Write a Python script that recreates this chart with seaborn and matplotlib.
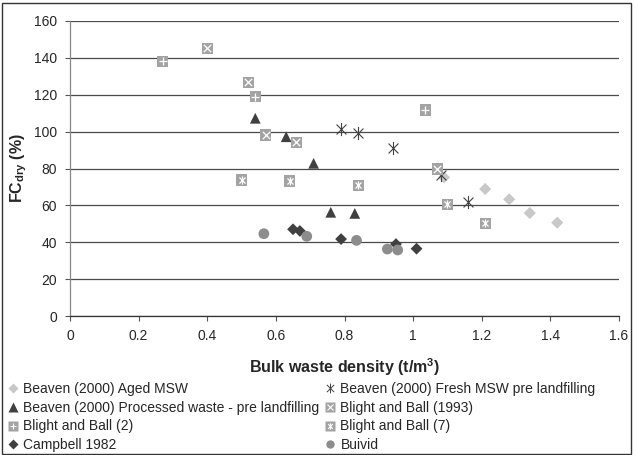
import matplotlib
matplotlib.use("Agg")
import matplotlib.pyplot as plt
import seaborn as sns
from matplotlib.patches import Rectangle
from matplotlib.lines import Line2D
from matplotlib.legend_handler import HandlerTuple
from matplotlib.path import Path

# ---- data ----
aged_x = [1.09, 1.21, 1.28, 1.34, 1.42]
aged_y = [75.2, 68.9, 63.3, 55.9, 50.7]

fresh_x = [0.79, 0.84, 0.94, 1.08, 1.16]
fresh_y = [101.4, 99.0, 90.9, 76.5, 61.7]

proc_x = [0.54, 0.63, 0.71, 0.76, 0.83]
proc_y = [107.2, 97.2, 82.8, 56.3, 55.7]

bb1993_x = [0.40, 0.52, 0.57, 0.66, 1.07]
bb1993_y = [145.0, 126.6, 98.1, 94.2, 79.7]

bb2_x = [0.27, 0.54, 1.035]
bb2_y = [138.0, 118.9, 111.7]

bb7_x = [0.50, 0.64, 0.84, 1.10, 1.21]
bb7_y = [73.8, 73.2, 70.9, 60.6, 50.3]

camp_x = [0.65, 0.67, 0.79, 0.95, 1.01]
camp_y = [47.1, 46.2, 41.8, 39.1, 36.6]

buivid_x = [0.565, 0.69, 0.835, 0.925, 0.955]
buivid_y = [44.7, 43.3, 41.1, 36.4, 35.9]

labels = ["Beaven (2000) Aged MSW",
          "Beaven (2000) Fresh MSW pre landfilling",
          "Beaven (2000) Processed waste - pre landfilling",
          "Blight and Ball (1993)",
          "Blight and Ball (2)",
          "Blight and Ball (7)",
          "Campbell 1982",
          "Buivid"]

x_ticks = [0, 0.2, 0.4, 0.6, 0.8, 1, 1.2, 1.4, 1.6]
x_ticklabels = ["0", "0.2", "0.4", "0.6", "0.8", "1", "1.2", "1.4", "1.6"]
y_ticks = [0, 20, 40, 60, 80, 100, 120, 140, 160]

sns.set_style("white")
plt.rcParams['font.family'] = ['Liberation Sans', 'DejaVu Sans']
plt.rcParams['mathtext.default'] = 'regular'

fig = plt.figure(figsize=(6.35, 4.55), dpi=100)
ax = fig.add_axes([70/635, 1-316.3/455, 549/635, (316.3-20.7)/455])

sq_grey = "#a3a3a3"
dark = "#404040"
# Excel-style star: X with a vertical bar
star = Path([(0, -1), (0, 1), (-0.75, -0.75), (0.75, 0.75), (-0.75, 0.75), (0.75, -0.75)],
            [Path.MOVETO, Path.LINETO, Path.MOVETO, Path.LINETO, Path.MOVETO, Path.LINETO])

# Aged MSW
sns.scatterplot(x=aged_x, y=aged_y, ax=ax, marker="D", s=38, color="#c8c8c8", edgecolor="none", zorder=3)
# Fresh MSW
sns.scatterplot(x=fresh_x, y=fresh_y, ax=ax, marker=star, s=90, color=dark, edgecolor=dark, linewidth=0.8, zorder=3)
# Processed
sns.scatterplot(x=proc_x, y=proc_y, ax=ax, marker="^", s=60, color=dark, edgecolor="none", zorder=3)
# Blight and Ball 1993
sns.scatterplot(x=bb1993_x, y=bb1993_y, ax=ax, marker="s", s=65, color=sq_grey, edgecolor="none", zorder=3)
sns.scatterplot(x=bb1993_x, y=bb1993_y, ax=ax, marker="x", s=28, color="white", linewidth=0.9, zorder=4)
# Blight and Ball 2
sns.scatterplot(x=bb2_x, y=bb2_y, ax=ax, marker="s", s=65, color=sq_grey, edgecolor="none", zorder=3)
sns.scatterplot(x=bb2_x, y=bb2_y, ax=ax, marker="+", s=40, color="white", linewidth=0.9, zorder=4)
# Blight and Ball 7
sns.scatterplot(x=bb7_x, y=bb7_y, ax=ax, marker="s", s=65, color=sq_grey, edgecolor="none", zorder=3)
sns.scatterplot(x=bb7_x, y=bb7_y, ax=ax, marker=star, s=34, color="white", edgecolor="white", linewidth=0.9, zorder=4)
# Campbell
sns.scatterplot(x=camp_x, y=camp_y, ax=ax, marker="D", s=36, color=dark, edgecolor="none", zorder=3)
# Buivid
sns.scatterplot(x=buivid_x, y=buivid_y, ax=ax, marker="o", s=60, color="#8c8c8c", edgecolor="none", zorder=3)

ax.set_xlim(0, 1.6)
ax.set_ylim(0, 160)
ax.set_xticks(x_ticks)
ax.set_xticklabels(x_ticklabels)
ax.set_yticks(y_ticks)
ax.tick_params(axis="both", labelsize=10, length=3.5, width=0.8, color="#555555",
               direction="out", left=True, bottom=True, pad=6)
ax.yaxis.grid(True, color="#4a4a4a", linewidth=0.9)
ax.xaxis.grid(False)
ax.set_axisbelow(True)
for s in ["top", "right"]:
    ax.spines[s].set_visible(False)
ax.spines["left"].set_color("#888888")
ax.spines["bottom"].set_color("#333333")
ax.spines["left"].set_linewidth(0.9)
ax.spines["bottom"].set_linewidth(0.9)

ax.set_xlabel(r"Bulk waste density (t/m$^{3}$)", fontsize=11.5, fontweight="bold", labelpad=9)
ax.set_ylabel(r"FC$_{dry}$ (%)", fontsize=11.5, fontweight="bold", labelpad=3)

# legend handles
def h(marker, color, size, **kw):
    return Line2D([], [], linestyle="none", marker=marker, color=color, markersize=size, **kw)

handles = [
    h("D", "#c8c8c8", 5, markeredgecolor="none"),
    h(star, dark, 7, markeredgewidth=0.7),
    h("^", dark, 7, markeredgecolor="none"),
    (h("s", sq_grey, 7.5, markeredgecolor="none"), h("x", "white", 4.5, markeredgewidth=0.8)),
    (h("s", sq_grey, 7.5, markeredgecolor="none"), h("+", "white", 5, markeredgewidth=0.8)),
    (h("s", sq_grey, 7.5, markeredgecolor="none"), h(star, "white", 4.5, markeredgewidth=0.8)),
    h("D", dark, 5, markeredgecolor="none"),
    h("o", "#8c8c8c", 6, markeredgecolor="none"),
]
order = [0, 2, 4, 6, 1, 3, 5, 7]
leg = fig.legend([handles[i] for i in order], [labels[i] for i in order],
                 handler_map={tuple: HandlerTuple(ndivide=1, pad=0)},
                 ncol=2, loc="upper left", bbox_to_anchor=(0.002, 0.172),
                 frameon=False, fontsize=10, handlelength=0.9, handletextpad=0.3,
                 columnspacing=0.3, labelspacing=0.33, borderaxespad=0.2, borderpad=0.2)

fig.patches.append(Rectangle((0.003, 0.003), 0.991, 0.991, transform=fig.transFigure,
                             fill=False, edgecolor="#333333", linewidth=1.0))

fig.savefig("out.png", dpi=100)
